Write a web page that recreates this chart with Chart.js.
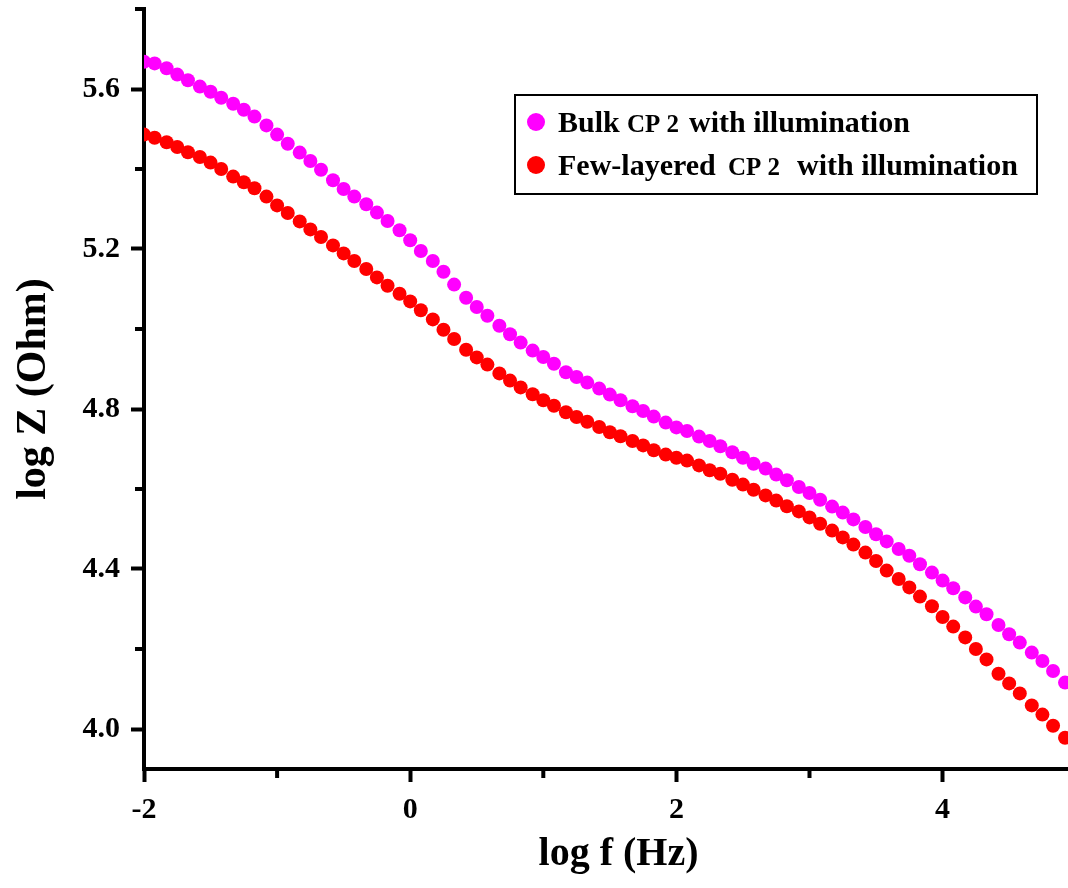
<!DOCTYPE html>
<html>
<head>
<meta charset="utf-8">
<script src="https://cdn.jsdelivr.net/npm/chart.js@4.4.0/dist/chart.umd.min.js"></script>
<style>
  html, body { margin: 0; padding: 0; background: #fff; overflow: hidden; }
  canvas { display: block; }
</style>
</head>
<body>
<!-- the original figure is cut off on the right, so the canvas runs a little past the window -->
<canvas id="bode" width="1100" height="888"></canvas>
<script>
// log f (Hz), about 12 points per decade
const logF = [
  -2.00, -1.92, -1.83, -1.75, -1.67, -1.58, -1.50, -1.42, -1.33, -1.25, -1.17, -1.08,
  -1.00, -0.92, -0.83, -0.75, -0.67, -0.58, -0.50, -0.42, -0.33, -0.25, -0.17, -0.08,
   0.00,  0.08,  0.17,  0.25,  0.33,  0.42,  0.50,  0.58,  0.67,  0.75,  0.83,  0.92,
   1.00,  1.08,  1.17,  1.25,  1.33,  1.42,  1.50,  1.58,  1.67,  1.75,  1.83,  1.92,
   2.00,  2.08,  2.17,  2.25,  2.33,  2.42,  2.50,  2.58,  2.67,  2.75,  2.83,  2.92,
   3.00,  3.08,  3.17,  3.25,  3.33,  3.42,  3.50,  3.58,  3.67,  3.75,  3.83,  3.92,
   4.00,  4.08,  4.17,  4.25,  4.33,  4.42,  4.50,  4.58,  4.67,  4.75,  4.83,  4.92
];

// log Z (Ohm) - bulk CP 2
const bulkLogZ = [
  5.668, 5.664, 5.652, 5.636, 5.622, 5.606, 5.593, 5.578, 5.563, 5.548, 5.531, 5.509,
  5.486, 5.463, 5.441, 5.420, 5.398, 5.372, 5.350, 5.331, 5.312, 5.291, 5.270, 5.247,
  5.222, 5.195, 5.170, 5.143, 5.111, 5.078, 5.055, 5.033, 5.008, 4.987, 4.966, 4.946,
  4.930, 4.913, 4.892, 4.880, 4.866, 4.851, 4.836, 4.822, 4.807, 4.795, 4.781, 4.766,
  4.754, 4.745, 4.731, 4.720, 4.707, 4.692, 4.678, 4.663, 4.651, 4.636, 4.622, 4.605,
  4.590, 4.573, 4.556, 4.541, 4.524, 4.505, 4.487, 4.469, 4.450, 4.433, 4.412, 4.391,
  4.371, 4.352, 4.329, 4.306, 4.287, 4.260, 4.237, 4.216, 4.191, 4.170, 4.145, 4.116
];

// log Z (Ohm) - few-layered CP 2
const fewLayerLogZ = [
  5.486, 5.478, 5.467, 5.455, 5.442, 5.430, 5.416, 5.400, 5.381, 5.367, 5.352, 5.331,
  5.309, 5.290, 5.269, 5.249, 5.230, 5.209, 5.189, 5.170, 5.150, 5.129, 5.108, 5.088,
  5.069, 5.047, 5.024, 4.998, 4.975, 4.948, 4.929, 4.911, 4.889, 4.871, 4.854, 4.837,
  4.822, 4.808, 4.792, 4.780, 4.768, 4.755, 4.742, 4.732, 4.720, 4.709, 4.697, 4.686,
  4.678, 4.671, 4.659, 4.647, 4.638, 4.623, 4.611, 4.598, 4.584, 4.571, 4.557, 4.544,
  4.529, 4.513, 4.496, 4.479, 4.461, 4.441, 4.420, 4.396, 4.375, 4.354, 4.331, 4.307,
  4.280, 4.256, 4.229, 4.200, 4.174, 4.138, 4.114, 4.089, 4.059, 4.036, 4.008, 3.978
];

const xMajor = [-2, 0, 2, 4];
const xMinor = [-1, 1, 3];
const yMajor = [4.0, 4.4, 4.8, 5.2, 5.6];
const yMinor = [4.2, 4.6, 5.0, 5.4, 5.8];

const legendParts = [
  ['Bulk', 'CP 2', 'with illumination'],
  ['Few-layered', 'CP 2', 'with illumination']
];
const seriesColors = ['#ff00ff', '#ff0000'];

const serif = "'Liberation Serif', 'Times New Roman', serif";

function toPoints(ys) {
  return logF.map((x, i) => ({ x: x, y: ys[i] }));
}

// short unlabeled ticks between the labeled ones
const minorTicks = {
  id: 'minorTicks',
  afterDraw(chart) {
    const ctx = chart.ctx;
    const area = chart.chartArea;
    const xs = chart.scales.x, ys = chart.scales.y;
    ctx.save();
    ctx.strokeStyle = '#000';
    ctx.lineWidth = 4;
    xMinor.forEach(v => {
      const px = xs.getPixelForValue(v);
      ctx.beginPath();
      ctx.moveTo(px, area.bottom);
      ctx.lineTo(px, area.bottom + 9);
      ctx.stroke();
    });
    yMinor.forEach(v => {
      const py = ys.getPixelForValue(v);
      ctx.beginPath();
      ctx.moveTo(area.left, py);
      ctx.lineTo(area.left - 9, py);
      ctx.stroke();
    });
    ctx.restore();
  }
};

// framed legend, "CP 2" set in a smaller size like the original
const boxLegend = {
  id: 'boxLegend',
  afterDraw(chart) {
    const ctx = chart.ctx;
    const rows = [
      { y: 132, starts: [558, 627, 689] },
      { y: 175, starts: [558, 728, 797] }
    ];
    const sizes = [30, 25, 30];
    ctx.save();
    ctx.lineWidth = 2;
    ctx.strokeStyle = '#000';
    ctx.strokeRect(515, 95, 522, 99);
    chart.data.datasets.forEach((ds, i) => {
      const row = rows[i];
      ctx.fillStyle = ds.backgroundColor;
      ctx.beginPath();
      ctx.arc(536, row.y - 10, 9, 0, Math.PI * 2);
      ctx.fill();
      ctx.fillStyle = '#000';
      ctx.textBaseline = 'alphabetic';
      ctx.textAlign = 'left';
      legendParts[i].forEach((part, j) => {
        ctx.font = 'bold ' + sizes[j] + 'px ' + serif;
        ctx.fillText(part, row.starts[j], row.y);
      });
    });
    ctx.restore();
  }
};

const tickFont = { family: serif, size: 30, weight: 'bold' };

new Chart(document.getElementById('bode'), {
  type: 'scatter',
  data: {
    datasets: [
      {
        label: legendParts[0].join(' '),
        data: toPoints(bulkLogZ),
        backgroundColor: seriesColors[0],
        borderWidth: 0,
        pointRadius: 7,
        pointHoverRadius: 7
      },
      {
        label: legendParts[1].join(' '),
        data: toPoints(fewLayerLogZ),
        backgroundColor: seriesColors[1],
        borderWidth: 0,
        pointRadius: 7,
        pointHoverRadius: 7
      }
    ]
  },
  options: {
    responsive: false,
    animation: false,
    devicePixelRatio: 1,
    layout: { padding: { top: 9, right: 0, left: 0, bottom: 0 } },
    plugins: {
      legend: { display: false },
      tooltip: { enabled: false }
    },
    scales: {
      x: {
        type: 'linear',
        min: -2,
        max: 5.13,
        afterBuildTicks: s => { s.ticks = xMajor.map(v => ({ value: v })); },
        afterFit: s => { s.height = 119; s.paddingLeft = 0; s.paddingRight = 0; },
        border: { display: true, color: '#000', width: 4 },
        grid: { display: true, drawOnChartArea: false, drawTicks: true, tickLength: 13, tickWidth: 4, tickColor: '#000' },
        ticks: { color: '#000', font: tickFont, padding: 10, maxRotation: 0, autoSkip: false, callback: v => String(v) },
        title: { display: true, text: 'log f (Hz)', color: '#000', font: { family: serif, size: 40, weight: 'bold', lineHeight: 1.2 }, padding: { top: 0, bottom: 9 } }
      },
      y: {
        type: 'linear',
        min: 3.9,
        max: 5.8,
        afterBuildTicks: s => { s.ticks = yMajor.map(v => ({ value: v })); },
        afterFit: s => { s.width = 144; s.paddingTop = 0; s.paddingBottom = 0; },
        border: { display: true, color: '#000', width: 4 },
        grid: { display: true, drawOnChartArea: false, drawTicks: true, tickLength: 13, tickWidth: 4, tickColor: '#000' },
        ticks: { color: '#000', font: tickFont, padding: 11, autoSkip: false, callback: v => Number(v).toFixed(1) },
        title: { display: true, text: 'log Z (Ohm)', color: '#000', font: { family: serif, size: 42, weight: 'bold', lineHeight: 1.2 }, padding: { top: 9, bottom: 0 } }
      }
    }
  },
  plugins: [minorTicks, boxLegend]
});
</script>
</body>
</html>
